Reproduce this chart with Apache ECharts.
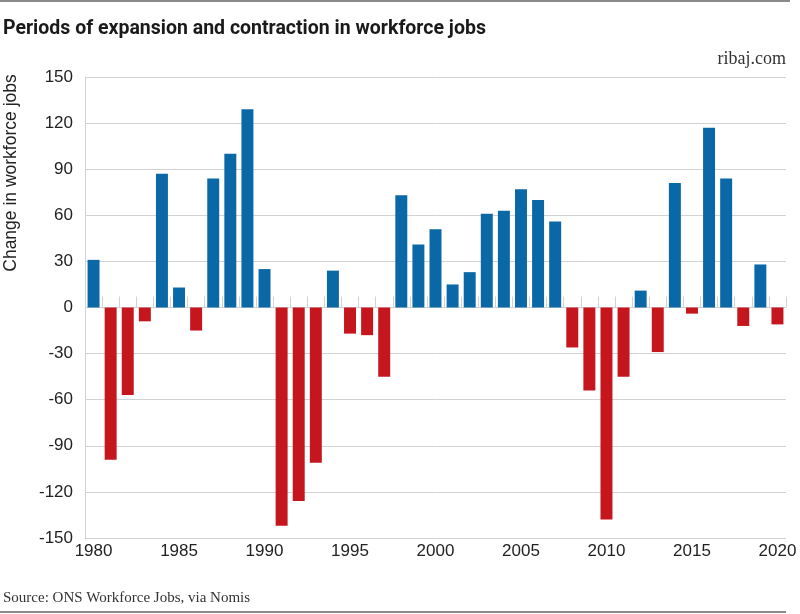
<!DOCTYPE html>
<html>
<head>
<meta charset="utf-8">
<script src="https://cdn.jsdelivr.net/npm/echarts@6/dist/echarts.min.js"></script>
<style>
html,body{margin:0;padding:0;background:#fff;}
#c{width:800px;height:614px;}
</style>
</head>
<body>
<div id="c"></div>
<script>
const years = [];
for (let y = 1980; y <= 2020; y++) years.push(String(y));
const changes = [31, -99, -57, -9, 87, 13, -15, 84, 100, 129,
  25, -142, -126, -101, 24, -17, -18, -45, 73, 41,
  51, 15, 23, 61, 63, 77, 70, 56, -26, -54,
  -138, -45, 11, -29, 81, -4, 117, 84, -12, 28,
  -11];
const yTicks = [-150, -120, -90, -60, -30, 0, 30, 60, 90, 120, 150];

const BLUE = '#0b68a7';
const RED = '#c5161d';
const GRID = '#d2d2d2';

const chart = echarts.init(document.getElementById('c'), null, {renderer: 'canvas'});
chart.setOption({
  animation: false,
  backgroundColor: '#fff',
  grid: {left: 85, right: 14, top: 77, bottom: 76, containLabel: false},
  xAxis: [{
    type: 'category',
    data: years,
    position: 'bottom',
    axisLine: {show: false, onZero: false},
    axisTick: {show: false},
    axisLabel: {
      interval: 4,
      margin: 5,
      fontFamily: 'Liberation Sans',
      fontSize: 17,
      color: '#222'
    },
    splitLine: {show: false}
  }, {
    type: 'category',
    data: years,
    min: 0,
    max: years.length - 1,
    position: 'bottom',
    axisLine: {show: false, onZero: true, onZeroAxisIndex: 0},
    axisTick: {show: true, inside: true, interval: 0, length: 11, lineStyle: {color: GRID, width: 1}},
    axisLabel: {show: false},
    splitLine: {show: false}
  }],
  yAxis: {
    type: 'value',
    min: -150,
    max: 150,
    interval: 30,
    axisLine: {show: true, lineStyle: {color: GRID, width: 1}},
    axisTick: {show: false},
    axisLabel: {
      margin: 12,
      fontFamily: 'Liberation Sans',
      fontSize: 17,
      color: '#222',
      formatter: v => yTicks.includes(v) ? String(v) : ''
    },
    splitLine: {show: true, lineStyle: {color: GRID, width: 1}}
  },
  series: [{
    type: 'bar',
    xAxisIndex: 0,
    data: changes,
    barWidth: '70%',
    z: 3,
    itemStyle: {
      color: p => (p.value >= 0 ? BLUE : RED)
    }
  }],
  graphic: [
    {type: 'rect', left: 0, top: 0, shape: {width: 790, height: 2}, style: {fill: '#8a8a8a'}},
    {type: 'rect', left: 0, top: 611, shape: {width: 786, height: 2}, style: {fill: '#8a8a8a'}},
    {type: 'text', left: 3, top: 19, style: {
      text: 'Periods of expansion and contraction in workforce jobs',
      font: 'bold 19.5px Roboto', fill: '#1a1a1a'}},
    {type: 'text', right: 14, top: 50, style: {
      text: 'ribaj.com', font: '18px "Liberation Serif"', fill: '#333'}},
    {type: 'text', left: 3, top: 591, style: {
      text: 'Source: ONS Workforce Jobs, via Nomis', font: '15px "Liberation Serif"', fill: '#333'}},
    {type: 'text', x: 11, y: 173, rotation: Math.PI / 2, style: {
      text: 'Change in workforce jobs', font: '17.5px "Liberation Sans"', fill: '#222',
      align: 'center', verticalAlign: 'middle'}}
  ]
});
</script>
</body>
</html>
